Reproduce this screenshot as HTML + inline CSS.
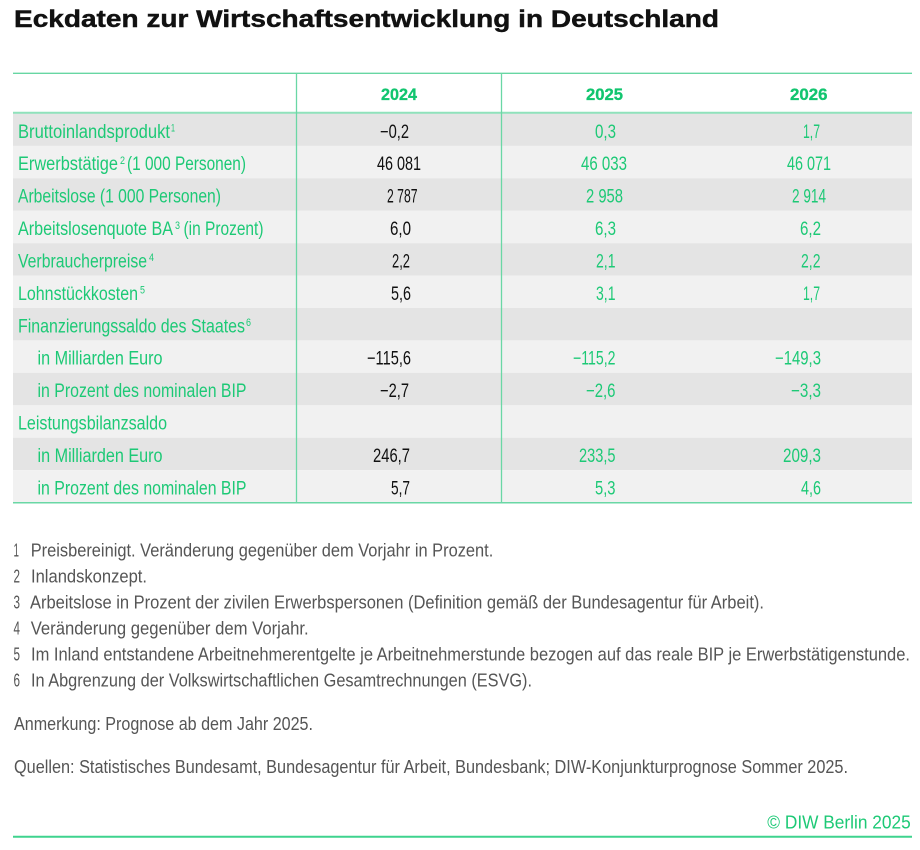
<!DOCTYPE html>
<html>
<head>
<meta charset="utf-8">
<style>
html,body{margin:0;padding:0;background:#fff;}
svg{display:block;}
text{font-family:"Liberation Sans",sans-serif;}
.t{font-size:24.5px;font-weight:bold;fill:#111;stroke:#111;stroke-width:0.45;}
.h{font-size:17px;font-weight:bold;fill:#12c56f;stroke:#12c56f;stroke-width:0.3;}
.l{font-size:19px;fill:#1dc976;}
.s{font-size:11px;fill:#1dc976;}
.b{font-size:19px;fill:#111;}
.g{font-size:19px;fill:#1dc976;}
.f{font-size:18px;fill:#555;}
.c{font-size:18px;fill:#1dc976;}
</style>
</head>
<body>
<svg width="920" height="850" viewBox="0 0 920 850" xmlns="http://www.w3.org/2000/svg">
<rect width="920" height="850" fill="#fff"/>
<text class="t" x="14" y="27" textLength="705" lengthAdjust="spacingAndGlyphs">Eckdaten zur Wirtschaftsentwicklung in Deutschland</text>

<!-- row backgrounds -->
<rect x="13" y="113.5" width="899" height="32.4" fill="#e4e4e4"/>
<rect x="13" y="145.9" width="899" height="32.4" fill="#f1f1f1"/>
<rect x="13" y="178.3" width="899" height="32.5" fill="#e4e4e4"/>
<rect x="13" y="210.8" width="899" height="32.4" fill="#f1f1f1"/>
<rect x="13" y="243.2" width="899" height="32.4" fill="#e4e4e4"/>
<rect x="13" y="275.6" width="899" height="32.4" fill="#f1f1f1"/>
<rect x="13" y="308.0" width="899" height="32.4" fill="#e4e4e4"/>
<rect x="13" y="340.4" width="899" height="32.5" fill="#f1f1f1"/>
<rect x="13" y="372.9" width="899" height="32.4" fill="#e4e4e4"/>
<rect x="13" y="405.3" width="899" height="32.4" fill="#f1f1f1"/>
<rect x="13" y="437.7" width="899" height="32.4" fill="#e4e4e4"/>
<rect x="13" y="470.1" width="899" height="32.4" fill="#f1f1f1"/>

<!-- lines -->
<line x1="13" y1="73.3" x2="912" y2="73.3" stroke="#67d6a3" stroke-width="1.3"/>
<line x1="13" y1="112.7" x2="912" y2="112.7" stroke="#8fe2bb" stroke-width="2"/>
<line x1="296.5" y1="73" x2="296.5" y2="502.5" stroke="#6ad7a5" stroke-width="1.3"/>
<line x1="501.5" y1="73" x2="501.5" y2="502.5" stroke="#6ad7a5" stroke-width="1.3"/>
<line x1="13" y1="502.7" x2="912" y2="502.7" stroke="#6ad7a5" stroke-width="1.5"/>

<!-- header -->
<text class="h" x="381" y="100" textLength="36" lengthAdjust="spacingAndGlyphs">2024</text>
<text class="h" x="586" y="100" textLength="37" lengthAdjust="spacingAndGlyphs">2025</text>
<text class="h" x="790" y="100" textLength="37.5" lengthAdjust="spacingAndGlyphs">2026</text>

<!-- labels -->
<text class="l" x="18" y="137.8" textLength="152" lengthAdjust="spacingAndGlyphs">Bruttoinlandsprodukt</text>
<text class="s" x="171" y="131.5" textLength="4" lengthAdjust="spacingAndGlyphs">1</text>

<text class="l" x="18" y="170.2" textLength="100" lengthAdjust="spacingAndGlyphs">Erwerbstätige</text>
<text class="s" x="120" y="163.9" textLength="5" lengthAdjust="spacingAndGlyphs">2</text>
<text class="l" x="127" y="170.2" textLength="119" lengthAdjust="spacingAndGlyphs">(1 000 Personen)</text>

<text class="l" x="18" y="202.6" textLength="203" lengthAdjust="spacingAndGlyphs">Arbeitslose (1 000 Personen)</text>

<text class="l" x="18" y="235.1" textLength="155" lengthAdjust="spacingAndGlyphs">Arbeitslosenquote BA</text>
<text class="s" x="175" y="228.8" textLength="5" lengthAdjust="spacingAndGlyphs">3</text>
<text class="l" x="183.5" y="235.1" textLength="80" lengthAdjust="spacingAndGlyphs">(in Prozent)</text>

<text class="l" x="18" y="267.5" textLength="129" lengthAdjust="spacingAndGlyphs">Verbraucherpreise</text>
<text class="s" x="149" y="261.2" textLength="5" lengthAdjust="spacingAndGlyphs">4</text>

<text class="l" x="18" y="299.9" textLength="120" lengthAdjust="spacingAndGlyphs">Lohnstückkosten</text>
<text class="s" x="140" y="293.6" textLength="5" lengthAdjust="spacingAndGlyphs">5</text>

<text class="l" x="18" y="332.3" textLength="227" lengthAdjust="spacingAndGlyphs">Finanzierungssaldo des Staates</text>
<text class="s" x="246" y="326" textLength="5" lengthAdjust="spacingAndGlyphs">6</text>

<text class="l" x="37.5" y="364.7" textLength="125" lengthAdjust="spacingAndGlyphs">in Milliarden Euro</text>
<text class="l" x="37.5" y="397.2" textLength="209" lengthAdjust="spacingAndGlyphs">in Prozent des nominalen BIP</text>
<text class="l" x="18" y="429.6" textLength="149" lengthAdjust="spacingAndGlyphs">Leistungsbilanzsaldo</text>
<text class="l" x="37.5" y="462.0" textLength="125" lengthAdjust="spacingAndGlyphs">in Milliarden Euro</text>
<text class="l" x="37.5" y="494.4" textLength="209" lengthAdjust="spacingAndGlyphs">in Prozent des nominalen BIP</text>

<!-- 2024 values -->
<text class="b" x="380" y="137.8" textLength="29" lengthAdjust="spacingAndGlyphs">−0,2</text>
<text class="b" x="377" y="170.2" textLength="44" lengthAdjust="spacingAndGlyphs">46 081</text>
<text class="b" x="387" y="202.6" textLength="30.5" lengthAdjust="spacingAndGlyphs">2 787</text>
<text class="b" x="390" y="235.1" textLength="21" lengthAdjust="spacingAndGlyphs">6,0</text>
<text class="b" x="392" y="267.5" textLength="18" lengthAdjust="spacingAndGlyphs">2,2</text>
<text class="b" x="391" y="299.9" textLength="20" lengthAdjust="spacingAndGlyphs">5,6</text>
<text class="b" x="367" y="364.7" textLength="44" lengthAdjust="spacingAndGlyphs">−115,6</text>
<text class="b" x="380" y="397.2" textLength="29" lengthAdjust="spacingAndGlyphs">−2,7</text>
<text class="b" x="373" y="462.0" textLength="37" lengthAdjust="spacingAndGlyphs">246,7</text>
<text class="b" x="391" y="494.4" textLength="19" lengthAdjust="spacingAndGlyphs">5,7</text>

<!-- 2025 values -->
<text class="g" x="595" y="137.8" textLength="21" lengthAdjust="spacingAndGlyphs">0,3</text>
<text class="g" x="581" y="170.2" textLength="46" lengthAdjust="spacingAndGlyphs">46 033</text>
<text class="g" x="586" y="202.6" textLength="37" lengthAdjust="spacingAndGlyphs">2 958</text>
<text class="g" x="595" y="235.1" textLength="21" lengthAdjust="spacingAndGlyphs">6,3</text>
<text class="g" x="596" y="267.5" textLength="19.5" lengthAdjust="spacingAndGlyphs">2,1</text>
<text class="g" x="596" y="299.9" textLength="19.5" lengthAdjust="spacingAndGlyphs">3,1</text>
<text class="g" x="573" y="364.7" textLength="42.5" lengthAdjust="spacingAndGlyphs">−115,2</text>
<text class="g" x="586" y="397.2" textLength="29.5" lengthAdjust="spacingAndGlyphs">−2,6</text>
<text class="g" x="579" y="462.0" textLength="36.5" lengthAdjust="spacingAndGlyphs">233,5</text>
<text class="g" x="595" y="494.4" textLength="20.5" lengthAdjust="spacingAndGlyphs">5,3</text>

<!-- 2026 values -->
<text class="g" x="803" y="137.8" textLength="17" lengthAdjust="spacingAndGlyphs">1,7</text>
<text class="g" x="787" y="170.2" textLength="44" lengthAdjust="spacingAndGlyphs">46 071</text>
<text class="g" x="792" y="202.6" textLength="34" lengthAdjust="spacingAndGlyphs">2 914</text>
<text class="g" x="800" y="235.1" textLength="21" lengthAdjust="spacingAndGlyphs">6,2</text>
<text class="g" x="801" y="267.5" textLength="19.5" lengthAdjust="spacingAndGlyphs">2,2</text>
<text class="g" x="803" y="299.9" textLength="17" lengthAdjust="spacingAndGlyphs">1,7</text>
<text class="g" x="775" y="364.7" textLength="46" lengthAdjust="spacingAndGlyphs">−149,3</text>
<text class="g" x="791" y="397.2" textLength="30" lengthAdjust="spacingAndGlyphs">−3,3</text>
<text class="g" x="783" y="462.0" textLength="38" lengthAdjust="spacingAndGlyphs">209,3</text>
<text class="g" x="801" y="494.4" textLength="20" lengthAdjust="spacingAndGlyphs">4,6</text>

<!-- footnotes -->
<text class="f" x="13.5" y="556.5" textLength="5.5" lengthAdjust="spacingAndGlyphs">1</text>
<text class="f" x="30.7" y="556.5" textLength="462.6" lengthAdjust="spacingAndGlyphs">Preisbereinigt. Veränderung gegenüber dem Vorjahr in Prozent.</text>
<text class="f" x="13.5" y="582.5" textLength="6.5" lengthAdjust="spacingAndGlyphs">2</text>
<text class="f" x="31" y="582.5" textLength="116" lengthAdjust="spacingAndGlyphs">Inlandskonzept.</text>
<text class="f" x="13.5" y="608.5" textLength="6.5" lengthAdjust="spacingAndGlyphs">3</text>
<text class="f" x="30" y="608.5" textLength="734" lengthAdjust="spacingAndGlyphs">Arbeitslose in Prozent der zivilen Erwerbspersonen (Definition gemäß der Bundesagentur für Arbeit).</text>
<text class="f" x="13.5" y="634.5" textLength="6.5" lengthAdjust="spacingAndGlyphs">4</text>
<text class="f" x="30.7" y="634.5" textLength="278" lengthAdjust="spacingAndGlyphs">Veränderung gegenüber dem Vorjahr.</text>
<text class="f" x="13.5" y="660.5" textLength="6.5" lengthAdjust="spacingAndGlyphs">5</text>
<text class="f" x="31" y="660.5" textLength="879" lengthAdjust="spacingAndGlyphs">Im Inland entstandene Arbeitnehmerentgelte je Arbeitnehmerstunde bezogen auf das reale BIP je Erwerbstätigenstunde.</text>
<text class="f" x="13.5" y="686.5" textLength="6.5" lengthAdjust="spacingAndGlyphs">6</text>
<text class="f" x="31" y="686.5" textLength="501" lengthAdjust="spacingAndGlyphs">In Abgrenzung der Volkswirtschaftlichen Gesamtrechnungen (ESVG).</text>

<text class="f" x="14" y="730" textLength="299" lengthAdjust="spacingAndGlyphs">Anmerkung: Prognose ab dem Jahr 2025.</text>
<text class="f" x="14" y="773" textLength="834" lengthAdjust="spacingAndGlyphs">Quellen: Statistisches Bundesamt, Bundesagentur für Arbeit, Bundesbank; DIW-Konjunkturprognose Sommer 2025.</text>

<text class="c" x="767.3" y="828.3" textLength="143.4" lengthAdjust="spacingAndGlyphs">© DIW Berlin 2025</text>
<line x1="13" y1="836.7" x2="912" y2="836.7" stroke="#3fd38e" stroke-width="2"/>
</svg>
</body>
</html>
